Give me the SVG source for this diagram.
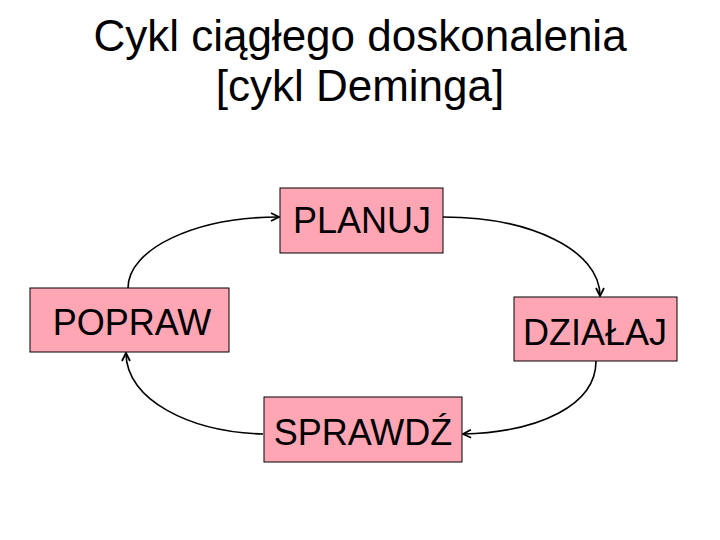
<svg xmlns="http://www.w3.org/2000/svg" width="720" height="540" viewBox="0 0 720 540">
<style>
.box{fill:#FFA6B5;stroke:#000;stroke-width:1}
.lbl{font-family:"Liberation Sans",Arial,sans-serif;font-size:36px;fill:#000;text-anchor:middle}
.title{font-family:"Liberation Sans",Arial,sans-serif;font-size:44px;fill:#000;text-anchor:middle}
.con{fill:none;stroke:#000;stroke-width:1.6}
</style>
<defs>
<marker id="arr" viewBox="0 0 10 10" refX="9" refY="5" markerWidth="10" markerHeight="10" markerUnits="userSpaceOnUse" orient="auto">
<path d="M1,1 L9,5 L1,9" fill="none" stroke="#000" stroke-width="1.8"/>
</marker>
</defs>
<rect width="720" height="540" fill="#fff"/>
<g id="title">
<text class="title" x="360" y="51">Cykl ciągłego doskonalenia</text>
<text class="title" x="360" y="101">[cykl Deminga]</text>
</g>
<g id="connectors">
<path class="con" marker-end="url(#arr)" d="M128,288 C128,249 195,217 279,217"/>
<path class="con" marker-end="url(#arr)" d="M443,217 C530,217 600,250 600,296"/>
<path class="con" marker-end="url(#arr)" d="M596,361 C596,405 540,432 463,434"/>
<path class="con" marker-end="url(#arr)" d="M263,434 C190,432 126,400 126,353"/>
</g>
<g id="planuj">
<rect class="box" x="280" y="188" width="163" height="65"/>
<text class="lbl" x="362" y="233">PLANUJ</text>
</g>
<g id="popraw">
<rect class="box" x="30" y="288" width="199" height="64"/>
<text class="lbl" x="132" y="335">POPRAW</text>
</g>
<g id="dzialaj">
<rect class="box" x="514" y="297" width="163" height="64"/>
<text class="lbl" x="595" y="345">DZIAŁAJ</text>
</g>
<g id="sprawdz">
<rect class="box" x="264" y="397" width="198" height="65"/>
<text class="lbl" x="363" y="445">SPRAWDŹ</text>
</g>
</svg>
